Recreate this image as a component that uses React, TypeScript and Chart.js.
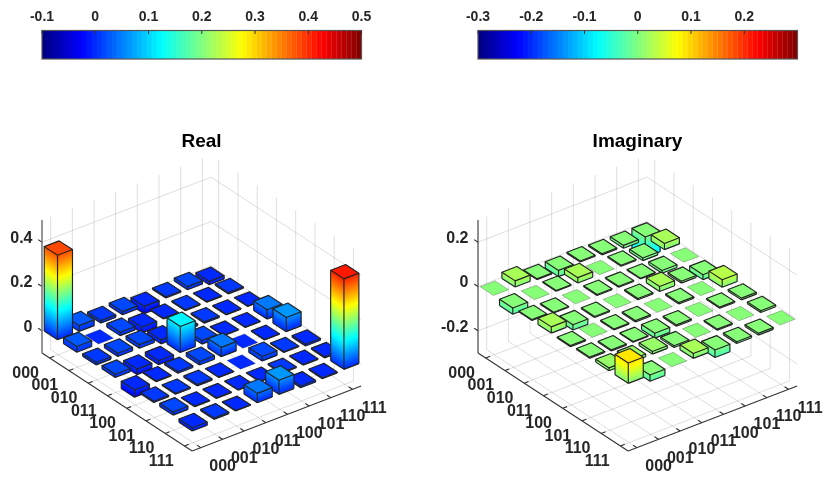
import React, { useEffect, useRef } from "react";
import { Chart, registerables } from "chart.js";

Chart.register(...registerables);

const W = 831;
const H = 481;
const BITS = ["000", "001", "010", "011", "100", "101", "110", "111"];

const realRows = [
  [0.381, 0.026, 0.011, 0.014, -0.033, 0.006, 0.014, -0.015],
  [0.026, 0, 0.015, -0.025, 0.003, 0.004, 0.003, 0.006],
  [0.011, 0.015, 0.016, -0.018, 0.008, 0.006, 0.003, 0.002],
  [0.014, -0.025, -0.018, 0.117, 0.016, 0.002, 0.002, 0.042],
  [-0.033, 0.003, 0.008, 0.016, 0.042, 0, 0.002, 0.064],
  [0.006, 0.004, 0.006, 0.002, 0, 0.02, 0.004, -0.008],
  [0.014, 0.003, 0.003, 0.002, 0.002, 0.004, 0.003, -0.005],
  [-0.015, 0.006, 0.002, 0.042, 0.064, -0.008, -0.005, 0.408],
];

const imagRows = [
  [0, 0.028, -0.004, -0.028, 0.005, -0.005, -0.013, -0.092],
  [-0.028, 0, 0.004, 0.024, 0, 0.005, -0.012, 0.028],
  [0.004, -0.004, 0, 0.005, 0.004, 0.003, -0.012, 0],
  [0.028, -0.024, -0.005, 0, 0.006, 0.022, 0.008, -0.022],
  [-0.005, 0, -0.004, -0.006, 0, 0.006, 0, 0.034],
  [0.005, -0.005, -0.003, -0.022, -0.006, 0, 0.005, 0.008],
  [0.013, 0.012, 0.012, -0.008, 0, -0.005, 0, 0.008],
  [0.092, -0.028, 0, 0.022, -0.034, -0.008, -0.008, 0],
];

const realZTicks = [0, 0.2, 0.4];
const imagZTicks = [-0.2, 0, 0.2];
const realBarTicks = [-0.1, 0, 0.1, 0.2, 0.3, 0.4, 0.5];
const imagBarTicks = [-0.3, -0.2, -0.1, 0, 0.1, 0.2];

const fmt = (v: number) => (Math.abs(v) < 1e-9 ? "0" : String(Number(v.toFixed(1))));

function jet(t: number): string {
  const i = Math.max(0, Math.min(63, Math.floor(t * 64)));
  const u = (i + 0.5) / 64;
  const c = (a: number) => Math.round(255 * Math.max(0, Math.min(1, 1.5 - Math.abs(4 * u - a))));
  return `rgb(${c(3)},${c(2)},${c(1)})`;
}

type Panel = {
  title: string;
  titleX: number;
  rows: number[][];
  zTicks: number[];
  zMin: number;
  zMax: number;
  L: [number, number];
  LB: [number, number];
  LR: [number, number];
  zAxisColor: string;
  zAxisWidth: number;
};

const ZPX = 133;
const SPAN = 7.8;
const HALF = 0.345;

const panels: Panel[] = [
  {
    title: "Real", titleX: 201.5, rows: realRows, zTicks: realZTicks, zMin: -0.1, zMax: 0.5,
    L: [42, 353], LB: [19.25, 98 / SPAN], LR: [169 / SPAN, -65 / SPAN],
    zAxisColor: "#7a7a7a", zAxisWidth: 1.6,
  },
  {
    title: "Imaginary", titleX: 637.5, rows: imagRows, zTicks: imagZTicks, zMin: -0.3, zMax: 0.3,
    L: [478, 353], LB: [19.25, 98 / SPAN], LR: [169 / SPAN, -65 / SPAN],
    zAxisColor: "#333333", zAxisWidth: 1.1,
  },
];

// 3D → projected coordinates (then mapped by the chart's x/y scales)
const proj = (p: Panel, u: number, w: number, z: number): [number, number] => [
  p.L[0] + u * p.LB[0] + w * p.LR[0],
  p.L[1] + u * p.LB[1] + w * p.LR[1] - ((z - p.zMin) / (p.zMax - p.zMin)) * ZPX,
];

const toPoints = (p: Panel) =>
  p.rows.flatMap((row, r) =>
    row.map((v, c) => {
      const [x, y] = proj(p, r + 0.4, c + 0.4, v);
      return { x, y };
    })
  );

const bars3d = {
  id: "bars3d",
  beforeDatasetsDraw(chart: any) {
    const ctx: CanvasRenderingContext2D = chart.ctx;
    const sx = chart.scales.x;
    const sy = chart.scales.y;
    const pt = (p: Panel, u: number, w: number, z: number): [number, number] => {
      const [a, b] = proj(p, u, w, z);
      return [sx.getPixelForValue(a), sy.getPixelForValue(b)];
    };
    const line = (a: [number, number], b: [number, number]) => {
      ctx.beginPath();
      ctx.moveTo(a[0], a[1]);
      ctx.lineTo(b[0], b[1]);
      ctx.stroke();
    };
    const poly = (pts: [number, number][]) => {
      ctx.beginPath();
      pts.forEach((q, i) => (i ? ctx.lineTo(q[0], q[1]) : ctx.moveTo(q[0], q[1])));
      ctx.closePath();
    };

    ctx.save();
    panels.forEach((p) => {
      const { zMin, zMax } = p;
      // grid
      ctx.strokeStyle = "rgba(38,38,38,0.15)";
      ctx.lineWidth = 1;
      for (let i = 0; i < 8; i++) {
        const t = i + 0.4;
        line(pt(p, t, 0, zMin), pt(p, t, SPAN, zMin));
        line(pt(p, 0, t, zMin), pt(p, SPAN, t, zMin));
        line(pt(p, 0, t, zMin), pt(p, 0, t, zMax));
        line(pt(p, t, SPAN, zMin), pt(p, t, SPAN, zMax));
      }
      p.zTicks.forEach((z) => {
        line(pt(p, 0, 0, z), pt(p, 0, SPAN, z));
        line(pt(p, 0, SPAN, z), pt(p, SPAN, SPAN, z));
      });
      // axes
      ctx.strokeStyle = "#333333";
      ctx.lineWidth = 1.1;
      line(pt(p, 0, 0, zMin), pt(p, SPAN, 0, zMin));
      line(pt(p, SPAN, 0, zMin), pt(p, SPAN, SPAN, zMin));
      for (let i = 0; i < 8; i++) {
        const t = i + 0.4;
        line(pt(p, t, 0, zMin), pt(p, t, 0.2, zMin));
        line(pt(p, SPAN, t, zMin), pt(p, SPAN - 0.2, t, zMin));
      }
      p.zTicks.forEach((z) => line(pt(p, 0, 0, z), pt(p, -0.2, 0, z)));
      ctx.strokeStyle = p.zAxisColor;
      ctx.lineWidth = p.zAxisWidth;
      line(pt(p, 0, 0, zMin), pt(p, 0, 0, zMax));

      // bars, back to front
      const tOf = (z: number) => (z - zMin) / (zMax - zMin);
      for (let r = 0; r < 8; r++) {
        for (let c = 7; c >= 0; c--) {
          const v = p.rows[r][c];
          const u0 = r + 0.4 - HALF, u1 = r + 0.4 + HALF;
          const w0 = c + 0.4 - HALF, w1 = c + 0.4 + HALF;
          const zt = Math.max(v, 0), zb = Math.min(v, 0);
          const flat = Math.abs(v) < 0.0005;
          // sides, one slice per colormap level
          if (!flat) {
            const step = (zMax - zMin) / 64;
            for (let z = zt; z > zb + 1e-9; z -= step) {
              const lo = Math.max(zb, z - step);
              const col = jet(tOf((z + lo) / 2));
              ctx.fillStyle = col;
              const extra = lo > zb ? step * 0.4 : 0;
              poly([pt(p, u0, w0, z), pt(p, u1, w0, z), pt(p, u1, w1, z), pt(p, u1, w1, lo - extra), pt(p, u1, w0, lo - extra), pt(p, u0, w0, lo - extra)]);
              ctx.fill();
            }
          }
          const tl = pt(p, u0, w0, zt), tf = pt(p, u1, w0, zt), tr = pt(p, u1, w1, zt), tb = pt(p, u0, w1, zt);
          ctx.fillStyle = jet(tOf(zt));
          poly([tl, tf, tr, tb]);
          ctx.fill();
          ctx.lineJoin = "round";
          ctx.lineWidth = flat ? 1 : 1.15;
          ctx.strokeStyle = flat ? "rgba(30,30,30,0.28)" : "#222222";
          ctx.stroke();
          if (!flat) {
            const bl = pt(p, u0, w0, zb), bf = pt(p, u1, w0, zb), br = pt(p, u1, w1, zb);
            line(tl, bl);
            line(tf, bf);
            line(tr, br);
            line(bl, bf);
            line(bf, br);
          }
        }
      }

      // text
      ctx.fillStyle = "#262626";
      ctx.font = "bold 16px 'Liberation Sans'";
      ctx.textBaseline = "middle";
      ctx.textAlign = "right";
      BITS.forEach((b, i) => {
        const q = pt(p, i + 0.4, 0, zMin);
        ctx.fillText(b, q[0] - 10.7, q[1] + 15.5);
      });
      ctx.textAlign = "center";
      BITS.forEach((b, i) => {
        const q = pt(p, SPAN, i + 0.4, zMin);
        ctx.fillText(b, q[0] + 21.8, q[1] + 18.8);
      });
      ctx.textAlign = "right";
      p.zTicks.forEach((z) => {
        const q = pt(p, 0, 0, z);
        ctx.fillText(fmt(z), q[0] - 9.5, q[1] - 3.5);
      });
      ctx.fillStyle = "#000000";
      ctx.textAlign = "center";
      ctx.font = "bold 19px 'Liberation Sans'";
      ctx.fillText(p.title, sx.getPixelForValue(p.titleX), sy.getPixelForValue(141.5));
    });
    ctx.restore();
  },
};

const barFrame = {
  id: "barFrame",
  afterDatasetsDraw(chart: any) {
    const { ctx, chartArea: a, scales } = chart;
    ctx.save();
    ctx.strokeStyle = "#555555";
    ctx.lineWidth = 1.2;
    ctx.strokeRect(a.left, a.top, a.right - a.left, a.bottom - a.top);
    ctx.strokeStyle = "#333333";
    ctx.lineWidth = 1;
    scales.x.ticks.forEach((t: any) => {
      const x = scales.x.getPixelForValue(t.value);
      ctx.beginPath();
      ctx.moveTo(x, a.top);
      ctx.lineTo(x, a.top + 3.5);
      ctx.stroke();
    });
    ctx.restore();
  },
};

function makeColorbar(cv: HTMLCanvasElement, min: number, max: number, ticks: number[]) {
  const step = (max - min) / 64;
  const mids = Array.from({ length: 64 }, (_, i) => min + (i + 0.5) * step);
  return new Chart(cv, {
    type: "bar",
    data: {
      datasets: [
        {
          data: mids.map((x) => ({ x, y: 1 })),
          backgroundColor: mids.map((_, i) => jet((i + 0.5) / 64)),
          borderWidth: 0,
          barPercentage: 1.06,
          categoryPercentage: 1,
        },
      ],
    },
    options: {
      responsive: false,
      animation: false,
      events: [],
      parsing: false,
      layout: { padding: { left: 42, right: 54 - 0.5, top: 0, bottom: 11 } },
      plugins: { legend: { display: false }, tooltip: { enabled: false } },
      scales: {
        x: {
          type: "linear",
          position: "top",
          offset: false,
          min,
          max,
          afterBuildTicks: (s: any) => {
            s.ticks = ticks.map((value) => ({ value }));
          },
          afterFit: (s: any) => {
            s.height = 30.5;
          },
          grid: { display: false, drawTicks: false, offset: false },
          border: { display: false },
          ticks: {
            autoSkip: false,
            maxRotation: 0,
            padding: 5,
            color: "#262626",
            font: { family: "'Liberation Sans'", weight: "bold", size: 14 },
            callback: (v: any) => fmt(Number(v)),
          },
        },
        y: { display: false, min: 0, max: 1 },
      },
    } as any,
    plugins: [barFrame],
  } as any);
}

export default function App() {
  const mainRef = useRef<HTMLCanvasElement>(null);
  const leftRef = useRef<HTMLCanvasElement>(null);
  const rightRef = useRef<HTMLCanvasElement>(null);

  useEffect(() => {
    const main = new Chart(mainRef.current!, {
      type: "scatter",
      data: {
        datasets: panels.map((p) => ({
          label: p.title,
          data: toPoints(p),
          pointRadius: 0,
          showLine: false,
        })),
      },
      options: {
        responsive: false,
        animation: false,
        events: [],
        layout: { padding: 0 },
        plugins: { legend: { display: false }, tooltip: { enabled: false } },
        scales: {
          x: { display: false, type: "linear", min: 0, max: W },
          y: { display: false, type: "linear", min: 0, max: H, reverse: true },
        },
      },
      plugins: [bars3d],
    } as any);
    const a = makeColorbar(leftRef.current!, -0.1, 0.5, realBarTicks);
    const b = makeColorbar(rightRef.current!, -0.3, 0.3, imagBarTicks);
    return () => {
      main.destroy();
      a.destroy();
      b.destroy();
    };
  }, []);

  return (
    <div style={{ position: "absolute", left: 0, top: 0, width: W, height: H, background: "#fff", overflow: "hidden" }}>
      <canvas ref={mainRef} width={W} height={H} style={{ position: "absolute", left: 0, top: 0 }} />
      <canvas ref={leftRef} width={415} height={70} style={{ position: "absolute", left: 0, top: 0 }} />
      <canvas ref={rightRef} width={415} height={70} style={{ position: "absolute", left: 436, top: 0 }} />
    </div>
  );
}
